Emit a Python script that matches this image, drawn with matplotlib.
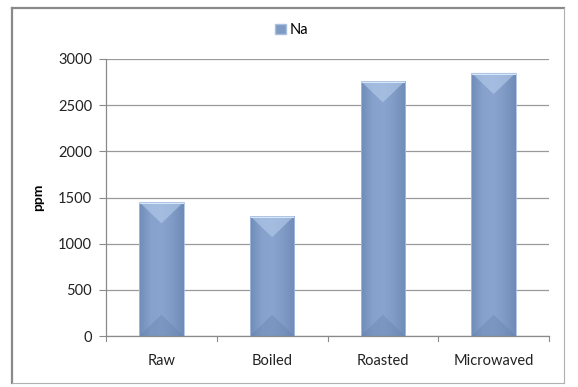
import numpy as np
import matplotlib.pyplot as plt
from matplotlib.patches import Rectangle, Polygon
from matplotlib.lines import Line2D
from matplotlib.colors import LinearSegmentedColormap

categories = ["Raw", "Boiled", "Roasted", "Microwaved"]
na_ppm = [1450, 1300, 2760, 2850]
series_name = "Na"
y_ticks = [0, 500, 1000, 1500, 2000, 2500, 3000]

plt.rcParams['font.family'] = ['Lato', 'DejaVu Sans']

W, H = 578, 387
fig = plt.figure(figsize=(W / 100, H / 100), dpi=100)

# chart frame
fig.add_artist(Line2D([12 / W, 12 / W], [1 - 8 / H, 1 - 383 / H], color='#8a8a8a', lw=1.6))
fig.add_artist(Line2D([12 / W, 564 / W], [1 - 8 / H, 1 - 8 / H], color='#8a8a8a', lw=1.6))
fig.add_artist(Line2D([564 / W, 564 / W], [1 - 8 / H, 1 - 383 / H], color='#b0b0b0', lw=0.8))
fig.add_artist(Line2D([12 / W, 564 / W], [1 - 383 / H, 1 - 383 / H], color='#b0b0b0', lw=0.8))

x0, x1, ytop, ybot = 106, 549, 59, 336
ax = fig.add_axes([x0 / W, 1 - ybot / H, (x1 - x0) / W, (ybot - ytop) / H])

xs = np.arange(len(categories))
bar_w = 0.4
bars = ax.bar(xs, na_ppm, width=bar_w, color='#7f9ac4', zorder=2)

ax.set_xlim(-0.5, len(categories) - 0.5)
ax.set_ylim(0, 3000)
ax.set_yticks(y_ticks)
ax.set_yticklabels([str(v) for v in y_ticks], fontsize=10.5, color='#222222')
ax.set_xticks(xs)
ax.set_xticklabels(categories, fontsize=10.5, color='#222222')
ax.tick_params(axis='x', length=0, pad=13)
ax.tick_params(axis='y', length=5, width=0.8, color='#8a8a8a', pad=5)

# category boundary tick marks
for b in np.arange(-0.5, len(categories), 1.0):
    ax.plot([b, b], [0, -0.018], color='#8a8a8a', lw=0.8, clip_on=False,
            transform=ax.get_xaxis_transform(), zorder=3)

ax.yaxis.grid(True, color='#9a9a9a', lw=0.9)
ax.set_axisbelow(True)
for s in ['top', 'right']:
    ax.spines[s].set_visible(False)
for s in ['left', 'bottom']:
    ax.spines[s].set_color('#8a8a8a')
    ax.spines[s].set_linewidth(0.9)

ax.set_ylabel('ppm', fontsize=10, fontweight='bold', labelpad=10)

# bevelled bar shading
cmap = LinearSegmentedColormap.from_list('bar', ['#6f8bb8', '#86a1cb', '#89a4ce', '#809bc5', '#6f8bb8'])
grad = np.linspace(0, 1, 64).reshape(1, -1)
for rect, v in zip(bars, na_ppm):
    bx = rect.get_x()
    bw = rect.get_width()
    im = ax.imshow(grad, cmap=cmap, extent=[bx, bx + bw, 0, v], aspect='auto', zorder=2.1)
    im.set_clip_path(rect)
    dx = bw / 2
    dy = 230
    top = Polygon([[bx, v], [bx + bw, v], [bx + dx, v - dy]], closed=True,
                  facecolor='#b6cdec', edgecolor='none', alpha=0.6, zorder=2.2)
    ax.add_patch(top)
    topline = Rectangle((bx, v - 22), bw, 22, facecolor='#d6e7fb', edgecolor='none', zorder=2.3)
    ax.add_patch(topline)
    bot = Polygon([[bx, 0], [bx + bw, 0], [bx + dx, dy]], closed=True,
                  facecolor='#5f7aa7', edgecolor='none', alpha=0.3, zorder=2.2)
    ax.add_patch(bot)
    ax.add_patch(Rectangle((bx, 0), bw, v, facecolor='none', edgecolor='#a9bfdf', lw=0.6, zorder=2.4))
ax.set_xlim(-0.5, len(categories) - 0.5)
ax.set_ylim(0, 3000)

# legend
handle = Rectangle((0, 0), 1, 1, facecolor='#7f9ac4', edgecolor='#a9bfdf')
fig.legend([handle], [series_name], loc='center', bbox_to_anchor=(292 / W, 1 - 30 / H),
           frameon=False, fontsize=10.5, handlelength=0.7, handleheight=0.7, handletextpad=0.3)

fig.savefig('out.png', dpi=100)
